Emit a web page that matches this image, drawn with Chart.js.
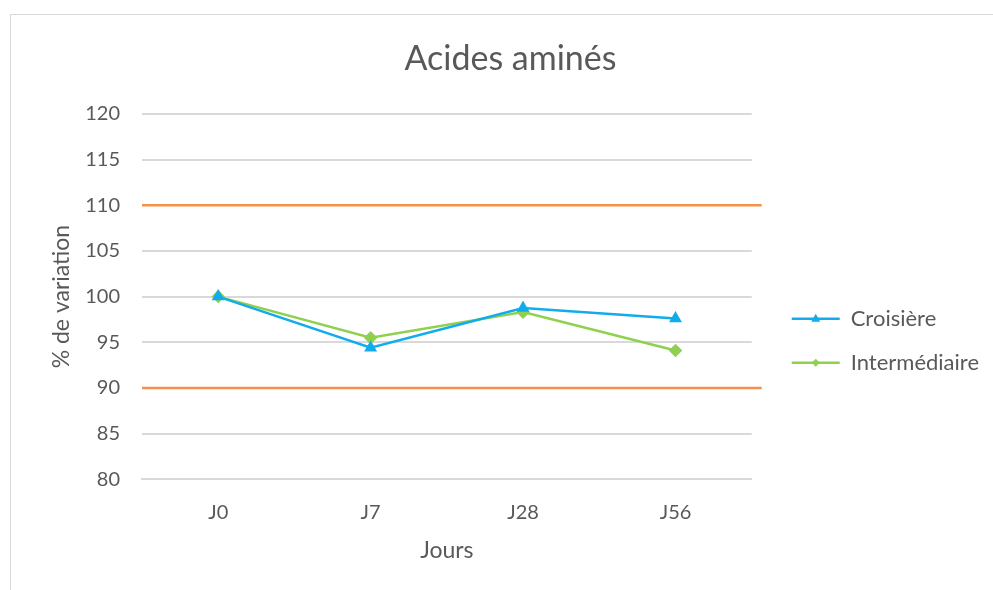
<!DOCTYPE html>
<html>
<head>
<meta charset="utf-8">
<script src="https://cdn.jsdelivr.net/npm/chart.js@4"></script>
<style>
  body { margin: 0; background: #fff; }
  #frame { position: absolute; left: 10px; top: 14px; width: 983px; height: 576px;
           border-left: 1px solid #d9d9d9; border-top: 1px solid #d9d9d9; box-sizing: border-box; }
  #wrap { position: absolute; left: 0; top: 0; width: 993px; height: 590px; }
</style>
</head>
<body>
<div id="frame"></div>
<div id="wrap"><canvas id="chart"></canvas></div>
<script>
const days = ['J0', 'J7', 'J28', 'J56'];
const croisiere = [100, 94.4, 98.75, 97.6];
const intermediaire = [100, 95.5, 98.3, 94.1];
const limits = [90, 110];

const grey = '#595959';
const font = "Lato, 'Open Sans', sans-serif";

// orange limit lines, a bit wider than the plot like the original
const limitLines = {
  id: 'limitLines',
  beforeDatasetsDraw(chart) {
    const ctx = chart.ctx;
    const y = chart.scales.y;
    const area = chart.chartArea;
    ctx.save();
    ctx.strokeStyle = '#F4914A';
    ctx.lineWidth = 2.5;
    limits.forEach(v => {
      const py = y.getPixelForValue(v);
      ctx.beginPath();
      ctx.moveTo(area.left, py);
      ctx.lineTo(area.right + 10, py);
      ctx.stroke();
    });
    ctx.restore();
  }
};

// markers on the legend line samples
const legendMarkers = {
  id: 'legendMarkers',
  afterDraw(chart) {
    const ctx = chart.ctx;
    const boxes = chart.legend.legendHitBoxes;
    chart.legend.legendItems.forEach((item, i) => {
      const b = boxes[i];
      const ds = chart.data.datasets[item.datasetIndex];
      const cx = b.left + 24;
      const cy = b.top + b.height / 2;
      ctx.save();
      ctx.fillStyle = ds.borderColor;
      ctx.beginPath();
      if (ds.pointStyle === 'triangle') {
        ctx.moveTo(cx, cy - 5);
        ctx.lineTo(cx + 4.5, cy + 3);
        ctx.lineTo(cx - 4.5, cy + 3);
      } else {
        ctx.moveTo(cx, cy - 4);
        ctx.lineTo(cx + 4, cy);
        ctx.lineTo(cx, cy + 4);
        ctx.lineTo(cx - 4, cy);
      }
      ctx.closePath();
      ctx.fill();
      ctx.restore();
    });
  }
};

new Chart(document.getElementById('chart'), {
  type: 'line',
  data: {
    labels: days,
    datasets: [{
      label: 'Croisière',
      data: croisiere,
      borderColor: '#12ACEC',
      backgroundColor: '#12ACEC',
      borderWidth: 2.5,
      pointStyle: 'triangle',
      pointRadius: 5,
      tension: 0
    }, {
      label: 'Intermédiaire',
      data: intermediaire,
      borderColor: '#8FD14F',
      backgroundColor: '#8FD14F',
      borderWidth: 2.5,
      pointStyle: 'rectRot',
      pointRadius: 5,
      tension: 0
    }]
  },
  options: {
    responsive: true,
    maintainAspectRatio: false,
    animation: false,
    layout: { padding: { left: 32, right: 4, top: 0, bottom: 22 } },
    plugins: {
      title: {
        display: true,
        text: 'Acides aminés',
        color: grey,
        font: { family: font, size: 34, weight: 'normal' },
        padding: { top: 39, bottom: 34 }
      },
      legend: {
        position: 'right',
        maxWidth: 230,
        title: { display: true, text: '', padding: { top: 99, bottom: 0 } },
        labels: {
          color: grey,
          font: { family: font, size: 22 },
          boxWidth: 48,
          boxHeight: 0,
          padding: 22
        }
      },
      tooltip: { enabled: false }
    },
    scales: {
      x: {
        offset: true,
        grid: { display: false },
        border: { display: true, color: '#d9d9d9', width: 2 },
        ticks: { color: grey, font: { family: font, size: 20 }, padding: 13 },
        title: { display: true, text: 'Jours', color: grey, font: { family: font, size: 23 }, padding: { top: -1 } }
      },
      y: {
        min: 80,
        max: 120,
        ticks: { stepSize: 5, color: grey, font: { family: font, size: 20 }, padding: 22 },
        grid: { color: '#d9d9d9', lineWidth: 2, drawTicks: false },
        border: { display: false },
        title: { display: true, text: '% de variation', color: grey, font: { family: font, size: 23 }, padding: { top: 16, bottom: 0 } },
        afterFit(scale) { scale.width = 110; }
      },
      // empty axis that only keeps a gap between the plot and the legend
      gap: {
        position: 'right',
        display: true,
        ticks: { display: false },
        grid: { display: false },
        border: { display: false },
        afterFit(scale) { scale.width = 18; }
      }
    }
  },
  plugins: [limitLines, legendMarkers]
});
</script>
</body>
</html>
